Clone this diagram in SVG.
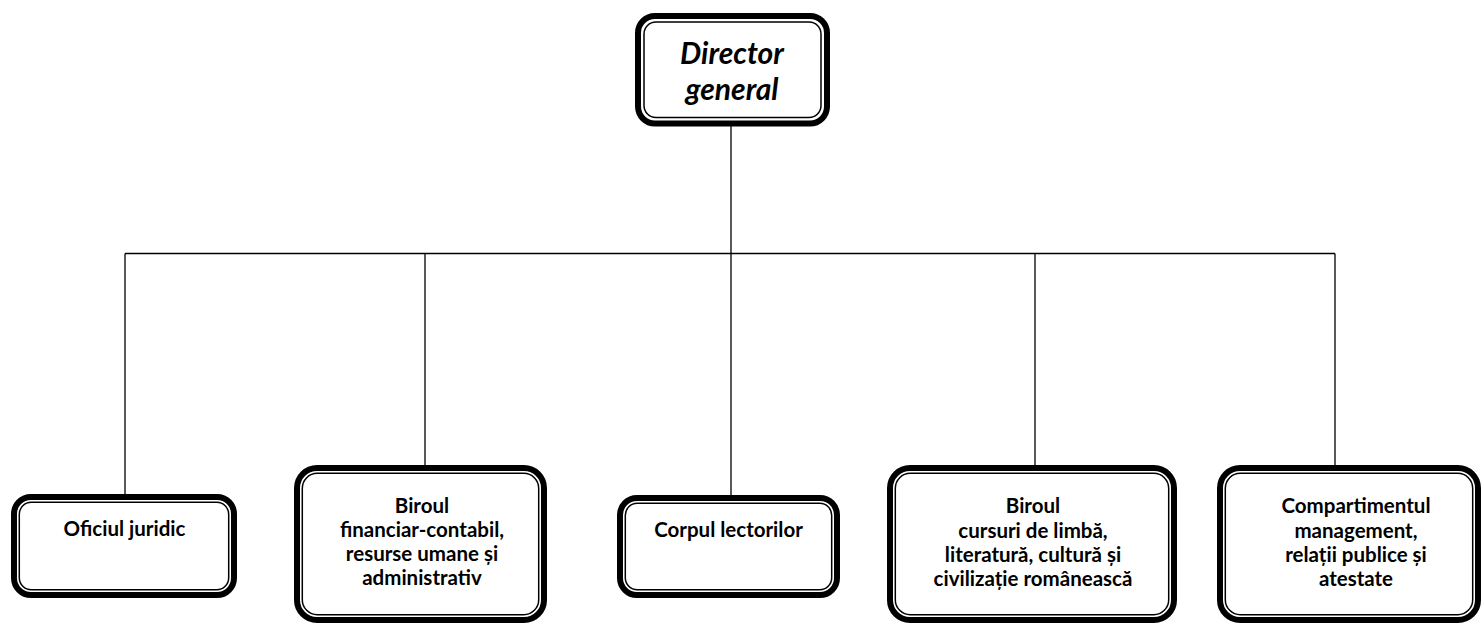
<svg xmlns="http://www.w3.org/2000/svg" width="1482" height="623" viewBox="0 0 1482 623">
<style>
.outer{fill:#fff;stroke:#000;stroke-width:6}
.inner{fill:none;stroke:#000;stroke-width:1.5}
.conn{fill:none;stroke:#000;stroke-width:1.3}
text{font-family:Lato,"Liberation Sans",sans-serif;font-weight:bold;fill:#000;text-anchor:middle}
.t{font-size:20.5px}
.d{font-size:30px;font-style:italic}
</style>
<g id="connectors">
<path class="conn" d="M731 126V253.5M125 253.5H1335M125 253.5V494M425 253.5V465M731 253.5V495M1035 253.5V465M1335 253.5V465"/>
</g>
<g id="director">
<rect class="outer" x="638" y="16" width="189" height="107.5" rx="17"/>
<rect class="inner" x="644" y="22" width="177" height="95.5" rx="12"/>
<text class="d" x="732" y="64">Director</text>
<text class="d" x="732" y="100">general</text>
</g>
<g id="oficiul">
<rect class="outer" x="14" y="497" width="220" height="98" rx="17"/>
<rect class="inner" x="19.3" y="502.3" width="209.4" height="87.4" rx="12"/>
<text class="t" x="124.5" y="536">Oficiul juridic</text>
</g>
<g id="biroul-financiar">
<rect class="outer" x="297" y="468" width="247" height="152" rx="20"/>
<rect class="inner" x="302.3" y="473.3" width="236.4" height="141.4" rx="15"/>
<text class="t" x="422" y="513">Biroul</text>
<text class="t" x="422" y="537">financiar-contabil,</text>
<text class="t" x="422" y="561">resurse umane și</text>
<text class="t" x="422" y="585">administrativ</text>
</g>
<g id="corpul">
<rect class="outer" x="620" y="498" width="217" height="97" rx="17"/>
<rect class="inner" x="625.3" y="503.3" width="206.4" height="86.4" rx="12"/>
<text class="t" x="728.5" y="537">Corpul lectorilor</text>
</g>
<g id="biroul-cursuri">
<rect class="outer" x="890" y="468" width="284" height="152" rx="20"/>
<rect class="inner" x="895.3" y="473.3" width="273.4" height="141.4" rx="15"/>
<text class="t" x="1033" y="513">Biroul</text>
<text class="t" x="1033" y="538">cursuri de limbă,</text>
<text class="t" x="1033" y="562">literatură, cultură și</text>
<text class="t" x="1033" y="586">civilizație românească</text>
</g>
<g id="compartimentul">
<rect class="outer" x="1220" y="468" width="258" height="152" rx="20"/>
<rect class="inner" x="1225.3" y="473.3" width="247.4" height="141.4" rx="15"/>
<text class="t" x="1356" y="513">Compartimentul</text>
<text class="t" x="1356" y="538">management,</text>
<text class="t" x="1356" y="562">relații publice și</text>
<text class="t" x="1356" y="586">atestate</text>
</g>
</svg>
